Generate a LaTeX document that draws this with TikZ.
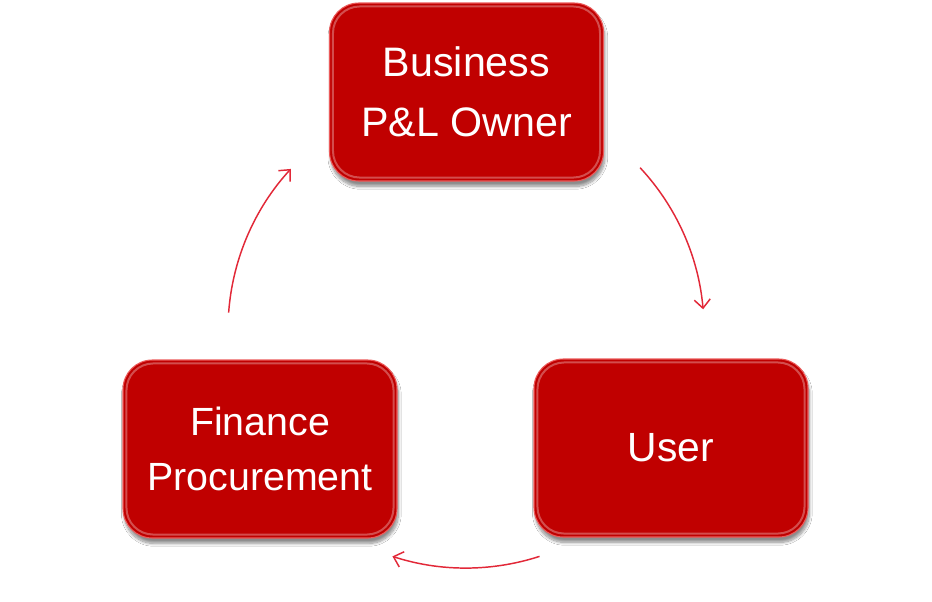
\documentclass[tikz,border=0pt]{standalone}
\usepackage{fontspec}
\setmainfont{Liberation Sans}
\usetikzlibrary{arrows.meta,shadows.blur,calc}
\definecolor{boxred}{RGB}{192,0,0}
\definecolor{arrowred}{RGB}{226,40,56}
\definecolor{glossred}{RGB}{236,90,90}
\begin{document}
\begin{tikzpicture}[x=0.75pt,y=-0.75pt,
  redbox/.style={rounded corners=22pt, fill=boxred, draw=glossred, line width=0.8pt,
    minimum width=205.5pt, minimum height=133.5pt, inner sep=0pt, align=center,
    text=white, font=\fontsize{29.3}{45}\selectfont,
    blur shadow={shadow xshift=1pt, shadow yshift=-4pt, shadow blur steps=10, shadow opacity=45}},
  cyclearrow/.style={draw=arrowred, line width=1.1pt, -{Straight Barb[length=6.5pt,width=12pt,line width=1.1pt]}}
]
\useasboundingbox[fill=white] (0,0) rectangle (932,601);
\node[redbox, font=\fontsize{30.9}{45}\selectfont] (top) at (466.5,92) {Business\\P\&L Owner};
\node[redbox, font=\fontsize{29.5}{41.5}\selectfont] (left) at (260,449) {Finance\\Procurement};
\node[redbox, font=\fontsize{30.6}{45}\selectfont] (right) at (671,448) {User};
% glossy edge highlights
\foreach \n in {top,left,right}{
  \draw[white, opacity=0.3, line width=1.5pt, rounded corners=20pt]
    ($(\n.south west)+(4,-4)$) rectangle ($(\n.north east)+(-4,4)$);
}
\coordinate (cc) at (466,330);
\coordinate (a1s) at ($(cc)+(238*0.7314,-238*0.6820)$);
\coordinate (a2s) at ($(cc)+(238*0.3090,238*0.9511)$);
\coordinate (a3s) at ($(cc)+(-238*0.9973,-238*0.0732)$);
\draw[cyclearrow] (a1s) arc[start angle=43, end angle=5, radius=178.5pt];
\draw[cyclearrow] (a2s) arc[start angle=-72, end angle=-108, radius=178.5pt];
\draw[cyclearrow] (a3s) arc[start angle=175.8, end angle=137.4, radius=178.5pt];
\end{tikzpicture}
\end{document}
